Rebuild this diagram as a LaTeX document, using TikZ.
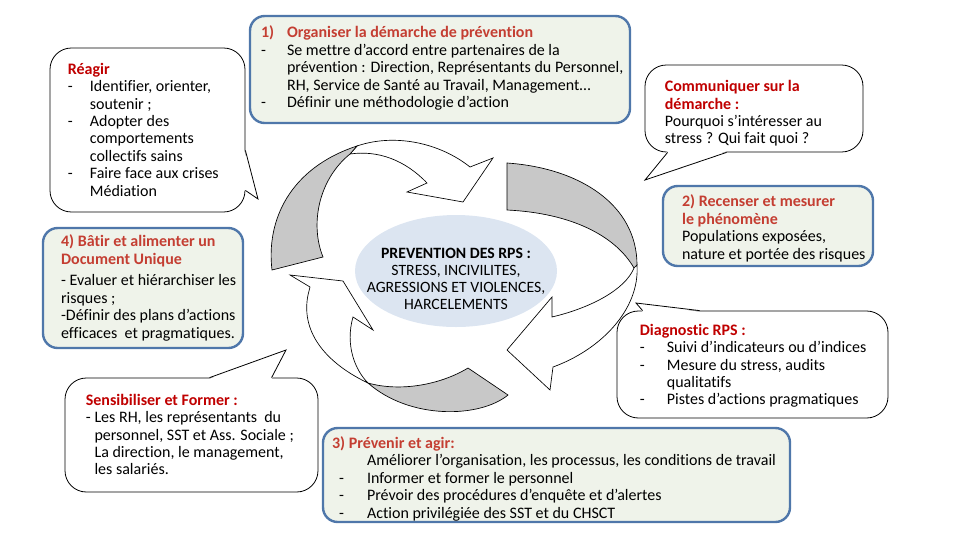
\documentclass[tikz,border=0pt]{standalone}
\usepackage{fontspec}
\setmainfont{Carlito}[Ligatures={TeX,CommonOff}]
\usepackage{xcolor}
\usepackage{tikz}
\usetikzlibrary{positioning}
\usetikzlibrary{shapes}
\usetikzlibrary{calc}

\definecolor{boxblue}{RGB}{79,119,170}
\definecolor{boxfill}{RGB}{239,243,234}
\definecolor{titred}{RGB}{196,62,50}
\definecolor{bulred}{RGB}{192,0,0}
\definecolor{ellfill}{RGB}{220,229,241}
\definecolor{arrgray}{RGB}{200,200,200}

\newlength{\dashw}
\newcommand{\dsh}{\makebox[\dashw][l]{-}}
\newcommand{\ctn}{\hspace*{\dashw}}

\begin{document}
\begin{tikzpicture}[x=0.75pt,y=-0.75pt]
\tikzstyle{etape}=[draw=boxblue, line width=1.8pt, fill=boxfill, rounded corners=11pt, inner sep=0pt]
\tikzstyle{bulle}=[draw=black, line width=0.6pt, fill=white, rounded corners=16pt, inner sep=0pt]
\tikzstyle{texte}=[anchor=north west, inner sep=0pt, align=left, font=\fontsize{12}{13.1}\selectfont]
\tikzstyle{fleche}=[draw=black, line width=0.5pt, fill=white]
\tikzstyle{dos}=[draw=black, line width=0.5pt, fill=arrgray]
\tikzstyle{pointe}=[draw=black, line width=0.6pt]

\useasboundingbox (0,0) rectangle (960,540);

% arrows round the centre
\draw[fleche] (357,146) .. controls (395,133) and (440,143) .. (470,167) -- (493,158) -- (463,202)
  -- (407,192) -- (427,183) .. controls (405,160) and (378,150) .. (350,154) -- cycle;
\draw[dos] (272,270) .. controls (266,220) and (290,168) .. (357,146) -- (350,154)
  .. controls (318,180) and (310,225) .. (323,257) -- cycle;
\draw[dos] (507,163) .. controls (580,168) and (637,205) .. (637,265) -- (634,268)
  .. controls (615,235) and (570,213) .. (507,210) -- cycle;
\draw[fleche] (637,265) .. controls (640,310) and (600,350) .. (553,367) -- (550,390) -- (507,350)
  -- (552,297) -- (552,317) .. controls (590,308) and (625,290) .. (634,268) -- cycle;
\draw[dos] (468,368) -- (508,395) .. controls (480,418) and (410,420) .. (368,383)
  .. controls (400,392) and (440,385) .. (468,368) -- cycle;
\draw[fleche] (368,383) .. controls (330,365) and (300,335) .. (308,295) -- (310,287) -- (290,275)
  -- (343,281) -- (373,330) -- (353,317) .. controls (345,345) and (355,370) .. (368,383) -- cycle;

\node[ellipse, fill=ellfill, minimum width=151.5pt, minimum height=84pt, inner sep=0pt] (rps) at (456,271) {};
\node[align=center, inner sep=0pt, font=\fontsize{11.8}{12.75}\selectfont] (rpstxt) at ($(rps)+(0,8)$)
  {\textbf{PREVENTION DES RPS :}\\ STRESS, INCIVILITES,\\ AGRESSIONS ET VIOLENCES,\\ HARCELEMENTS};

% blue boxes
\node[etape, minimum width=285pt, minimum height=80.25pt] (box1) at (440,69.5) {};
\node[texte, execute at begin node={\setlength{\dashw}{19.5pt}}] (txt1) at ($(box1.north west)+(12,11)$)
  {\textcolor{titred}{\textbf{\makebox[\dashw][l]{1)}Organiser la démarche de prévention}}\\
   \dsh Se mettre d’accord entre partenaires de la\\
   \ctn prévention : Direction, Représentants du Personnel,\\
   \ctn RH, Service de Santé au Travail, Management…\\
   \dsh Définir une méthodologie d’action};

\node[etape, minimum width=157.5pt, minimum height=60pt] (box2) at (768,226) {};
\node[texte] (txt2) at ($(box2.north west)+(20,10)$)
  {\textcolor{titred}{\textbf{2) Recenser et mesurer}}\\
   \textcolor{titred}{\textbf{le phénomène}}\\
   Populations exposées,\\
   nature et portée des risques};

\node[etape, minimum width=350.25pt, minimum height=70.5pt] (box3) at (556.5,475) {};
\node[texte, execute at begin node={\setlength{\dashw}{21pt}}] (txt3) at ($(box3.north west)+(10,9.5)$)
  {\textcolor{titred}{\textbf{3) Prévenir et agir:}}\\
   \hspace*{5.25pt}\ctn Améliorer l’organisation, les processus, les conditions de travail\\
   \hspace*{5.25pt}\dsh Informer et former le personnel\\
   \hspace*{5.25pt}\dsh Prévoir des procédures d’enquête et d’alertes\\
   \hspace*{5.25pt}\dsh Action privilégiée des SST et du CHSCT};

\node[etape, minimum width=150pt, minimum height=90pt] (box4) at (143,288) {};
\node[texte] (txt4) at ($(box4.north west)+(19,8)$)
  {\textcolor{titred}{\textbf{4) Bâtir et alimenter un}}\\
   \textcolor{titred}{\textbf{Document Unique}}\\[3pt]
   - Evaluer et hiérarchiser les\\
   risques ;\\
   -Définir des plans d’actions\\
   efficaces\ \ et pragmatiques.};

% callouts
\node[bulle, minimum width=146.25pt, minimum height=123pt] (bulle0) at (147.5,130) {};
\coordinate (tip0) at (258,199);
\coordinate (a0) at ($(bulle0.south east)+(0,-62)$);
\coordinate (b0) at ($(bulle0.south east)+(0,-22)$);
\fill[white] ($(a0)+(-1.2,0)$) -- (tip0) -- ($(b0)+(-1.2,0)$) -- cycle;
\draw[pointe] (a0) -- (tip0) -- (b0);
\node[texte, execute at begin node={\setlength{\dashw}{16.5pt}}] (txt5) at ($(bulle0.north west)+(18,15)$)
  {\textcolor{bulred}{\textbf{Réagir}}\\
   \dsh Identifier, orienter,\\
   \ctn soutenir ;\\
   \dsh Adopter des\\
   \ctn comportements\\
   \ctn collectifs sains\\
   \dsh Faire face aux crises\\
   \ctn Médiation};

\node[bulle, minimum width=163.5pt, minimum height=65.25pt] (bulle1) at (754,108.5) {};
\coordinate (tip1) at (645,180);
\coordinate (a1) at ($(bulle1.south west)+(23,0)$);
\coordinate (b1) at ($(bulle1.south west)+(82,0)$);
\fill[white] ($(a1)+(0,-1.2)$) -- (tip1) -- ($(b1)+(0,-1.2)$) -- cycle;
\draw[pointe] (a1) -- (tip1) -- (b1);
\node[texte] (txt6) at ($(bulle1.north west)+(20,15.5)$)
  {\textcolor{bulred}{\textbf{Communiquer sur la}}\\
   \textcolor{bulred}{\textbf{démarche :}}\\
   Pourquoi s’intéresser au\\
   stress ? Qui fait quoi ?};

\node[bulle, minimum width=203.25pt, minimum height=80.25pt] (bulle2) at (752.5,364.5) {};
\coordinate (tip2) at (636,303);
\coordinate (a2) at ($(bulle2.north west)+(26,0)$);
\coordinate (b2) at ($(bulle2.north west)+(83,0)$);
\fill[white] ($(a2)+(0,1.2)$) -- (tip2) -- ($(b2)+(0,1.2)$) -- cycle;
\draw[pointe] (a2) -- (tip2) -- (b2);
\node[texte, execute at begin node={\setlength{\dashw}{20.25pt}}] (txt7) at ($(bulle2.north west)+(23,13)$)
  {\textcolor{bulred}{\textbf{Diagnostic RPS :}}\\
   \dsh Suivi d’indicateurs ou d’indices\\
   \dsh Mesure du stress, audits\\
   \ctn qualitatifs\\
   \dsh Pistes d’actions pragmatiques};

\node[bulle, minimum width=189.75pt, minimum height=85.5pt] (bulle3) at (191.5,435) {};
\coordinate (tip3) at (286,350);
\coordinate (a3) at ($(bulle3.north west)+(145,0)$);
\coordinate (b3) at ($(bulle3.north west)+(207,0)$);
\fill[white] ($(a3)+(0,1.2)$) -- (tip3) -- ($(b3)+(0,1.2)$) -- cycle;
\draw[pointe] (a3) -- (tip3) -- (b3);
\node[texte, execute at begin node={\setlength{\dashw}{6.5pt}}] (txt8) at ($(bulle3.north west)+(21,16)$)
  {\textcolor{bulred}{\textbf{Sensibiliser et Former :}}\\
   \dsh Les RH, les représentants\ \ du\\
   \ctn personnel, SST et Ass. Sociale ;\\
   \ctn La direction, le management,\\
   \ctn les salariés.};
\end{tikzpicture}
\end{document}
